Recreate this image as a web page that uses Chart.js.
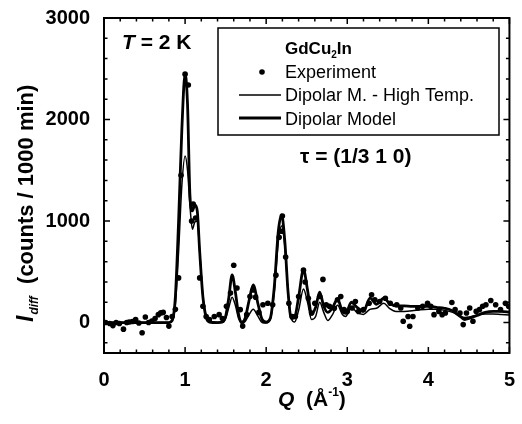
<!DOCTYPE html>
<html lang="en">
<head>
  <meta charset="UTF-8" />
  <title>GdCu2In diffuse scattering</title>
  <script src="https://cdn.jsdelivr.net/npm/chart.js"></script>
  <style>
    body { margin: 0; background: #fff; }
    #wrap { width: 522px; height: 424px; }
  </style>
</head>
<body>
  <div id="wrap"><canvas id="chart" width="522" height="424"></canvas></div>

  <script>
    const FONT = "'Liberation Sans', Arial, sans-serif";

    // tick labels
    const xTicks = [0, 1, 2, 3, 4, 5];
    const yTicks = [0, 1000, 2000, 3000];

    // model curves
    const modelQ = [0, 0.5, 0.8, 0.84, 0.88, 0.92, 0.96, 1.0, 1.03, 1.06, 1.09, 1.12, 1.15, 1.18,
      1.22, 1.26, 1.3, 1.4, 1.46, 1.5, 1.54, 1.58, 1.62, 1.66, 1.7, 1.74, 1.79, 1.84, 1.9, 1.95,
      2.0, 2.05, 2.1, 2.15, 2.19, 2.23, 2.27, 2.31, 2.35, 2.4, 2.46, 2.51, 2.56, 2.61, 2.66,
      2.71, 2.76, 2.82, 2.88, 2.94, 2.98, 3.05, 3.12, 3.2, 3.28, 3.36, 3.45, 3.52,
      3.6, 3.7, 3.8, 3.9, 4.0, 4.1, 4.2, 4.3, 4.4, 4.45, 4.5, 4.6, 4.7, 4.8, 4.9, 5.0];
    const dipolarModel = [0, 0, 0, 20, 250, 1000, 1900, 2450, 2150, 1250, 1100, 1160, 1100, 700,
      250, 50, 5, 0, 5, 60, 250, 470, 300, 80, 5, 40, 220, 370, 180, 30,
      5, 40, 350, 900, 1060, 800, 300, 40, 50, 250, 520, 320, 80, 150, 300,
      160, 100, 150, 230, 110, 90, 200, 150, 110, 240, 180, 240, 190,
      165, 165, 160, 160, 160, 150, 140, 115, 55, 30, 40, 70, 100, 110, 110, 100];
    const dipolarHighT = [0, 0, 0, 15, 180, 700, 1350, 1640, 1500, 1150, 920, 990, 1000, 700,
      260, 60, 5, 0, 0, 40, 150, 250, 170, 40, -10, 10, 80, 130, 60, 0,
      -5, 30, 300, 800, 950, 750, 300, 40, 5, 120, 330, 200, 30, 60, 200,
      100, 20, 80, 170, 80, 60, 150, 100, 80, 130, 140, 190, 140,
      110, 110, 115, 125, 130, 130, 120, 100, 60, 50, 55, 75, 85, 85, 80, 75];

    // experimental points
    const expQ = [0.02, 0.07, 0.11, 0.15, 0.19, 0.24, 0.28, 0.31, 0.35, 0.39, 0.43, 0.47, 0.51, 0.55,
      0.59, 0.63, 0.67, 0.70, 0.73, 0.77, 0.80, 0.84, 0.88, 0.92, 0.95, 1.0, 1.04, 1.08, 1.10, 1.13,
      1.18, 1.22, 1.26, 1.30, 1.36, 1.42, 1.46, 1.51, 1.56, 1.60, 1.64, 1.68, 1.71, 1.76, 1.80,
      1.84, 1.87, 1.91, 1.96, 2.02, 2.08, 2.12, 2.16, 2.19, 2.20, 2.24, 2.28, 2.32, 2.36, 2.40,
      2.46, 2.48, 2.52, 2.56, 2.60, 2.66, 2.70, 2.74, 2.78, 2.84, 2.88, 2.92, 2.96, 3.00, 3.06,
      3.10, 3.14, 3.20, 3.27, 3.30, 3.34, 3.40, 3.47, 3.53, 3.61, 3.66, 3.69, 3.75, 3.77, 3.81,
      3.87, 3.93, 3.99, 4.03, 4.07, 4.13, 4.17, 4.21, 4.29, 4.33, 4.39, 4.43, 4.47, 4.51, 4.55,
      4.59, 4.63, 4.67, 4.71, 4.77, 4.83, 4.89, 4.95, 4.99];
    const expI = [0, -10, -30, 0, -10, -65, 0, 5, 10, 30, -5, -100, 55, 0,
      15, 40, 78, 95, 100, 50, -35, 60, 130, 440, 1450, 2447, 2340, 1000, 1168, 1030,
      440, 160, 60, 30, 60, 78, 40, 160, 290, 565, 340, 127, -35, 78, 256,
      320, 250, 100, 175, 190, 175, 467, 840, 900, 1050, 645, 190, 60, 60, 256,
      516, 400, 240, 94, 190, 256, 425, 175, 160, 140, 224, 256, 127, 110, 143,
      207, 110, 127, 190, 273, 224, 207, 240, 190, 175, 143, 13, 60, -36, 60,
      143, 160, 190, 160, 78, 110, 78, 94, 197, 127, 94, -20, 94, 143, 13,
      110, 127, 160, 175, 217, 175, 127, 190, 160];

    const pairs = (xs, ys) => xs.map((q, i) => ({ x: q, y: ys[i] }));

    const frame = {
      id: 'frame',
      afterDraw(chart) {
        const { ctx, chartArea: a, scales: { x, y } } = chart;
        ctx.save();
        ctx.strokeStyle = '#000';
        ctx.lineWidth = 2;
        ctx.strokeRect(a.left, a.top, a.right - a.left, a.bottom - a.top);

        // inward ticks on all four sides
        ctx.lineWidth = 1.5;
        ctx.beginPath();
        for (let i = 0; i <= 25; i++) {
          const px = x.getPixelForValue(i * 0.2);
          const len = i % 5 === 0 ? 6 : 3.5;
          ctx.moveTo(px, a.bottom); ctx.lineTo(px, a.bottom - len);
          ctx.moveTo(px, a.top); ctx.lineTo(px, a.top + len);
        }
        for (let v = -200; v <= 3000; v += 200) {
          const py = y.getPixelForValue(v);
          const len = v % 1000 === 0 ? 6 : 3.5;
          ctx.moveTo(a.left, py); ctx.lineTo(a.left + len, py);
          ctx.moveTo(a.right, py); ctx.lineTo(a.right - len, py);
        }
        ctx.stroke();

        ctx.fillStyle = '#000';
        ctx.textBaseline = 'alphabetic';

        // y title
        ctx.save();
        ctx.translate(33, 322);
        ctx.rotate(-Math.PI / 2);
        let cx = 0;
        ctx.font = `italic bold 23px ${FONT}`;
        ctx.fillText('I', cx, 0); cx += ctx.measureText('I').width + 1;
        ctx.font = `italic bold 12px ${FONT}`;
        ctx.fillText('diff', cx, 5); cx += ctx.measureText('diff').width;
        ctx.font = `bold 22px ${FONT}`;
        ctx.fillText('  (counts / 1000 min)', cx, 0);
        ctx.restore();

        // x title
        ctx.font = `italic bold 21px ${FONT}`;
        let tx = 278;
        ctx.fillText('Q', tx, 406); tx += ctx.measureText('Q').width;
        ctx.font = `bold 21px ${FONT}`;
        ctx.fillText('  (Å', tx, 406); tx += ctx.measureText('  (Å').width;
        ctx.font = `bold 12px ${FONT}`;
        ctx.fillText('-1', tx, 396); tx += ctx.measureText('-1').width;
        ctx.font = `bold 21px ${FONT}`;
        ctx.fillText(')', tx, 406);

        // T = 2 K
        ctx.font = `italic bold 21px ${FONT}`;
        ctx.fillText('T', 122, 49);
        let w = ctx.measureText('T').width;
        ctx.font = `bold 21px ${FONT}`;
        ctx.fillText(' = 2 K', 122 + w, 49);

        // tau label
        ctx.fillText('τ = (1/3 1 0)', 300, 163);

        // legend box
        ctx.lineWidth = 1.5;
        ctx.strokeRect(218, 28, 281, 107);
        ctx.font = `bold 17px ${FONT}`;
        let gx = 285;
        ctx.fillText('GdCu', gx, 54); gx += ctx.measureText('GdCu').width;
        ctx.font = `bold 10px ${FONT}`;
        ctx.fillText('2', gx, 58); gx += ctx.measureText('2').width;
        ctx.font = `bold 17px ${FONT}`;
        ctx.fillText('In', gx, 54);

        const ds = chart.data.datasets;
        ctx.font = `18px ${FONT}`;
        ctx.beginPath(); ctx.arc(262, 72, 2.8, 0, Math.PI * 2); ctx.fill();
        ctx.fillText(ds[0].label, 285, 78);
        ctx.lineWidth = ds[1].borderWidth;
        ctx.beginPath(); ctx.moveTo(239, 95); ctx.lineTo(281, 95); ctx.stroke();
        ctx.fillText(ds[1].label, 285, 101);
        ctx.lineWidth = ds[2].borderWidth;
        ctx.beginPath(); ctx.moveTo(239, 118); ctx.lineTo(281, 118); ctx.stroke();
        ctx.fillText(ds[2].label, 285, 125);
        ctx.restore();
      }
    };

    new Chart(document.getElementById('chart'), {
      type: 'scatter',
      data: {
        datasets: [
          {
            label: 'Experiment',
            data: pairs(expQ, expI),
            pointRadius: 2.8,
            pointBackgroundColor: '#000',
            pointBorderWidth: 0,
            showLine: false
          },
          {
            label: 'Dipolar M. - High Temp.',
            data: pairs(modelQ, dipolarHighT),
            showLine: true,
            borderColor: '#000',
            borderWidth: 1.5,
            pointRadius: 0,
            cubicInterpolationMode: 'monotone'
          },
          {
            label: 'Dipolar Model',
            data: pairs(modelQ, dipolarModel),
            showLine: true,
            borderColor: '#000',
            borderWidth: 2.8,
            pointRadius: 0,
            cubicInterpolationMode: 'monotone'
          }
        ]
      },
      options: {
        responsive: false,
        animation: false,
        devicePixelRatio: 1,
        layout: { padding: { top: 15, right: 3, left: 0, bottom: 0 } },
        plugins: { legend: { display: false }, tooltip: { enabled: false } },
        scales: {
          x: {
            type: 'linear', min: 0, max: 5,
            afterFit: s => { s.height = 71; },
            afterBuildTicks: s => { s.ticks = xTicks.map(v => ({ value: v })); },
            grid: { display: false },
            border: { display: false },
            ticks: { color: '#000', padding: 7, callback: v => String(v),
              font: { family: FONT, size: 20, weight: 'bold' } }
          },
          y: {
            type: 'linear', min: -300, max: 3000,
            afterFit: s => { s.width = 104; },
            afterBuildTicks: s => { s.ticks = yTicks.map(v => ({ value: v })); },
            grid: { display: false },
            border: { display: false },
            ticks: { color: '#000', padding: 6, callback: v => String(v),
              font: { family: FONT, size: 20, weight: 'bold' } }
          }
        }
      },
      plugins: [frame]
    });
  </script>
</body>
</html>
